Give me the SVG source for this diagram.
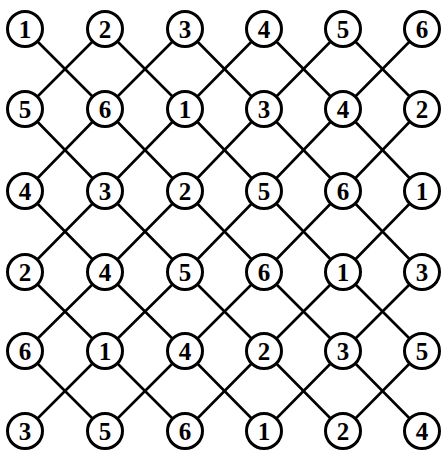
<svg xmlns="http://www.w3.org/2000/svg" width="444" height="450" viewBox="0 0 444 450">
<style>
.e{stroke:#000;stroke-width:2.6;fill:none;stroke-linecap:round}
.n circle{fill:#fff;stroke:#000;stroke-width:3}
.n text{font-family:"Liberation Serif","DejaVu Serif",serif;font-size:25px;font-weight:bold;text-anchor:middle;fill:#000}
</style>
<rect width="444" height="450" fill="#fff"/>
<g id="connectors" class="e">
<line x1="25" y1="29" x2="105" y2="109"/>
<line x1="105" y1="29" x2="25" y2="109"/>
<line x1="105" y1="29" x2="185" y2="109"/>
<line x1="185" y1="29" x2="105" y2="109"/>
<line x1="185" y1="29" x2="264" y2="109"/>
<line x1="264" y1="29" x2="185" y2="109"/>
<line x1="264" y1="29" x2="343" y2="109"/>
<line x1="343" y1="29" x2="264" y2="109"/>
<line x1="343" y1="29" x2="422" y2="109"/>
<line x1="422" y1="29" x2="343" y2="109"/>
<line x1="25" y1="109" x2="105" y2="191"/>
<line x1="105" y1="109" x2="25" y2="191"/>
<line x1="105" y1="109" x2="185" y2="191"/>
<line x1="185" y1="109" x2="105" y2="191"/>
<line x1="185" y1="109" x2="264" y2="191"/>
<line x1="264" y1="109" x2="185" y2="191"/>
<line x1="264" y1="109" x2="343" y2="191"/>
<line x1="343" y1="109" x2="264" y2="191"/>
<line x1="343" y1="109" x2="422" y2="191"/>
<line x1="422" y1="109" x2="343" y2="191"/>
<line x1="25" y1="191" x2="105" y2="272"/>
<line x1="105" y1="191" x2="25" y2="272"/>
<line x1="105" y1="191" x2="185" y2="272"/>
<line x1="185" y1="191" x2="105" y2="272"/>
<line x1="185" y1="191" x2="264" y2="272"/>
<line x1="264" y1="191" x2="185" y2="272"/>
<line x1="264" y1="191" x2="343" y2="272"/>
<line x1="343" y1="191" x2="264" y2="272"/>
<line x1="343" y1="191" x2="422" y2="272"/>
<line x1="422" y1="191" x2="343" y2="272"/>
<line x1="25" y1="272" x2="105" y2="351"/>
<line x1="105" y1="272" x2="25" y2="351"/>
<line x1="105" y1="272" x2="185" y2="351"/>
<line x1="185" y1="272" x2="105" y2="351"/>
<line x1="185" y1="272" x2="264" y2="351"/>
<line x1="264" y1="272" x2="185" y2="351"/>
<line x1="264" y1="272" x2="343" y2="351"/>
<line x1="343" y1="272" x2="264" y2="351"/>
<line x1="343" y1="272" x2="422" y2="351"/>
<line x1="422" y1="272" x2="343" y2="351"/>
<line x1="25" y1="351" x2="105" y2="431"/>
<line x1="105" y1="351" x2="25" y2="431"/>
<line x1="105" y1="351" x2="185" y2="431"/>
<line x1="185" y1="351" x2="105" y2="431"/>
<line x1="185" y1="351" x2="264" y2="431"/>
<line x1="264" y1="351" x2="185" y2="431"/>
<line x1="264" y1="351" x2="343" y2="431"/>
<line x1="343" y1="351" x2="264" y2="431"/>
<line x1="343" y1="351" x2="422" y2="431"/>
<line x1="422" y1="351" x2="343" y2="431"/>
</g>
<g id="n00" class="n"><circle cx="25" cy="29" r="17.5"/><text x="25" y="38">1</text></g>
<g id="n01" class="n"><circle cx="105" cy="29" r="17.5"/><text x="105" y="38">2</text></g>
<g id="n02" class="n"><circle cx="185" cy="29" r="17.5"/><text x="185" y="38">3</text></g>
<g id="n03" class="n"><circle cx="264" cy="29" r="17.5"/><text x="264" y="38">4</text></g>
<g id="n04" class="n"><circle cx="343" cy="29" r="17.5"/><text x="343" y="38">5</text></g>
<g id="n05" class="n"><circle cx="422" cy="29" r="17.5"/><text x="422" y="38">6</text></g>
<g id="n10" class="n"><circle cx="25" cy="109" r="17.5"/><text x="25" y="118">5</text></g>
<g id="n11" class="n"><circle cx="105" cy="109" r="17.5"/><text x="105" y="118">6</text></g>
<g id="n12" class="n"><circle cx="185" cy="109" r="17.5"/><text x="185" y="118">1</text></g>
<g id="n13" class="n"><circle cx="264" cy="109" r="17.5"/><text x="264" y="118">3</text></g>
<g id="n14" class="n"><circle cx="343" cy="109" r="17.5"/><text x="343" y="118">4</text></g>
<g id="n15" class="n"><circle cx="422" cy="109" r="17.5"/><text x="422" y="118">2</text></g>
<g id="n20" class="n"><circle cx="25" cy="191" r="17.5"/><text x="25" y="200">4</text></g>
<g id="n21" class="n"><circle cx="105" cy="191" r="17.5"/><text x="105" y="200">3</text></g>
<g id="n22" class="n"><circle cx="185" cy="191" r="17.5"/><text x="185" y="200">2</text></g>
<g id="n23" class="n"><circle cx="264" cy="191" r="17.5"/><text x="264" y="200">5</text></g>
<g id="n24" class="n"><circle cx="343" cy="191" r="17.5"/><text x="343" y="200">6</text></g>
<g id="n25" class="n"><circle cx="422" cy="191" r="17.5"/><text x="422" y="200">1</text></g>
<g id="n30" class="n"><circle cx="25" cy="272" r="17.5"/><text x="25" y="281">2</text></g>
<g id="n31" class="n"><circle cx="105" cy="272" r="17.5"/><text x="105" y="281">4</text></g>
<g id="n32" class="n"><circle cx="185" cy="272" r="17.5"/><text x="185" y="281">5</text></g>
<g id="n33" class="n"><circle cx="264" cy="272" r="17.5"/><text x="264" y="281">6</text></g>
<g id="n34" class="n"><circle cx="343" cy="272" r="17.5"/><text x="343" y="281">1</text></g>
<g id="n35" class="n"><circle cx="422" cy="272" r="17.5"/><text x="422" y="281">3</text></g>
<g id="n40" class="n"><circle cx="25" cy="351" r="17.5"/><text x="25" y="360">6</text></g>
<g id="n41" class="n"><circle cx="105" cy="351" r="17.5"/><text x="105" y="360">1</text></g>
<g id="n42" class="n"><circle cx="185" cy="351" r="17.5"/><text x="185" y="360">4</text></g>
<g id="n43" class="n"><circle cx="264" cy="351" r="17.5"/><text x="264" y="360">2</text></g>
<g id="n44" class="n"><circle cx="343" cy="351" r="17.5"/><text x="343" y="360">3</text></g>
<g id="n45" class="n"><circle cx="422" cy="351" r="17.5"/><text x="422" y="360">5</text></g>
<g id="n50" class="n"><circle cx="25" cy="431" r="17.5"/><text x="25" y="440">3</text></g>
<g id="n51" class="n"><circle cx="105" cy="431" r="17.5"/><text x="105" y="440">5</text></g>
<g id="n52" class="n"><circle cx="185" cy="431" r="17.5"/><text x="185" y="440">6</text></g>
<g id="n53" class="n"><circle cx="264" cy="431" r="17.5"/><text x="264" y="440">1</text></g>
<g id="n54" class="n"><circle cx="343" cy="431" r="17.5"/><text x="343" y="440">2</text></g>
<g id="n55" class="n"><circle cx="422" cy="431" r="17.5"/><text x="422" y="440">4</text></g>
</svg>
